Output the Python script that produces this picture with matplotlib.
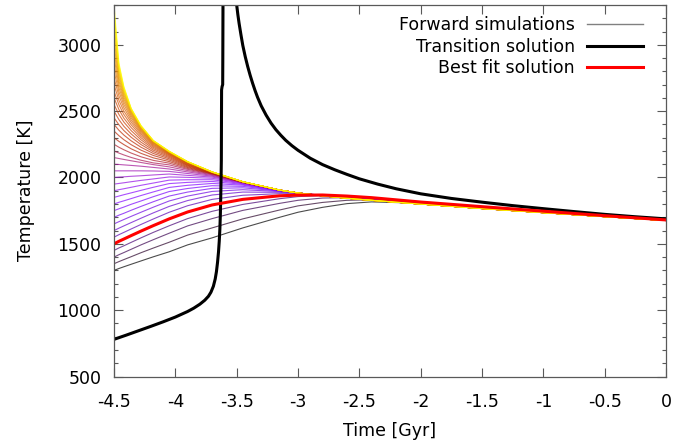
import numpy as np
import matplotlib
matplotlib.use("Agg")
import matplotlib.pyplot as plt
from matplotlib.lines import Line2D

plt.rcParams['font.family'] = ['DejaVu Sans']
plt.rcParams['axes.unicode_minus'] = False

# ---------------- data ----------------
t_fwd = [-4.5, -4.46, -4.42, -4.36, -4.28, -4.18, -4.05, -3.9, -3.7, -3.45,
         -3.15, -3.0, -2.8, -2.6, -2.4, -2.0, -1.5, -1.0, -0.5, 0.0]

fwd_start = [1300, 1350, 1400, 1450, 1550, 1600, 1650, 1700, 1750, 1800,
             1850, 1900, 1950, 2000, 2050, 2100, 2150, 2200, 2250, 2300,
             2350, 2400, 2450, 2500, 2550, 2600, 2650, 2700, 2750, 2800,
             2850, 2900, 2950, 3000, 3050, 3100, 3150, 3200, 3250, 3300]

upper_tail = [1905, 1883, 1862, 1844, 1828, 1800, 1766, 1735, 1705, 1676]

fwd_T = [
    [1300, 1314, 1327, 1346, 1371, 1402, 1440, 1492, 1545, 1620, 1700, 1738, 1775, 1803, 1816, 1806, 1772, 1740, 1708, 1678],
    [1350, 1366, 1381, 1403, 1433, 1468, 1512, 1566, 1620, 1688, 1755, 1786, 1812, 1828, 1832, 1808, 1774, 1742, 1709, 1679],
    [1400, 1418, 1434, 1459, 1492, 1531, 1580, 1635, 1690, 1752, 1805, 1828, 1845, 1848, 1841, 1811, 1776, 1743, 1710, 1679],
    [1450, 1469, 1485, 1511, 1545, 1586, 1636, 1690, 1745, 1797, 1840, 1856, 1864, 1858, 1845, 1813, 1778, 1744, 1711, 1680],
    [1550, 1569, 1586, 1612, 1646, 1687, 1738, 1787, 1835, 1866, 1878, 1876, 1868, 1857, 1845, 1812, 1777, 1744, 1711, 1680],
    [1600, 1618, 1635, 1660, 1693, 1733, 1782, 1826, 1868, 1890, 1888, 1880, 1867, 1855, 1842, 1810, 1775, 1742, 1710, 1679],
    [1650, 1667, 1683, 1707, 1738, 1776, 1823, 1860, 1895, 1908, 1894, 1882, 1866, 1853, 1840, 1808, 1773, 1741, 1709, 1679],
    [1700, 1716, 1730, 1753, 1782, 1817, 1860, 1890, 1918, 1922, 1898, 1883, 1865, 1851, 1838, 1806, 1772, 1740, 1708, 1678],
    [1750, 1764, 1777, 1798, 1823, 1855, 1894, 1917, 1938, 1933, 1900, 1883, 1864, 1850, 1836, 1805, 1771, 1739, 1708, 1678],
    [1800, 1813, 1824, 1841, 1864, 1891, 1925, 1941, 1955, 1942, 1901, 1883, 1863, 1849, 1835, 1804, 1770, 1738, 1707, 1678],
    [1850, 1860, 1870, 1884, 1903, 1926, 1954, 1963, 1970, 1948, 1902, 1883, 1863, 1848, 1834, 1803, 1769, 1738, 1707, 1677],
    [1900, 1908, 1915, 1926, 1941, 1958, 1980, 1983, 1983, 1953, 1903, 1883, 1863, 1847, 1833, 1803, 1769, 1737, 1707, 1677],
    [1950, 1955, 1960, 1968, 1978, 1989, 2004, 2001, 1994, 1957, 1903, 1883, 1863, 1847, 1832, 1802, 1768, 1737, 1706, 1677],
    [2000, 2003, 2005, 2009, 2013, 2019, 2026, 2016, 2003, 1960, 1903, 1883, 1862, 1846, 1831, 1802, 1768, 1736, 1706, 1677],
    [2050, 2050, 2050, 2050, 2050, 2049, 2046, 2030, 2010, 1962, 1904, 1883, 1862, 1845, 1830, 1801, 1767, 1736, 1706, 1677],
    [2100, 2098, 2095, 2091, 2085, 2076, 2064, 2042, 2016, 1963, 1904, 1883, 1862, 1845, 1829, 1801, 1767, 1736, 1706, 1677],
    [2150, 2143, 2136, 2126, 2113, 2097, 2080, 2052, 2021, 1964] + upper_tail,
    [2200, 2184, 2170, 2151, 2130, 2110, 2095, 2061, 2025, 1964] + upper_tail,
    [2250, 2228, 2209, 2184, 2156, 2129, 2108, 2068, 2028, 1965] + upper_tail,
    [2300, 2272, 2248, 2216, 2182, 2148, 2120, 2075, 2030, 1965] + upper_tail,
    [2350, 2315, 2285, 2247, 2206, 2166, 2131, 2081, 2032, 1965] + upper_tail,
    [2400, 2356, 2320, 2276, 2228, 2181, 2141, 2087, 2034, 1966] + upper_tail,
    [2450, 2397, 2354, 2303, 2248, 2194, 2150, 2092, 2035, 1966] + upper_tail,
    [2500, 2436, 2386, 2328, 2266, 2206, 2158, 2096, 2036, 1966] + upper_tail,
    [2550, 2475, 2418, 2353, 2284, 2217, 2165, 2100, 2037, 1966] + upper_tail,
    [2600, 2512, 2447, 2376, 2300, 2227, 2171, 2104, 2037, 1967] + upper_tail,
    [2650, 2548, 2475, 2397, 2315, 2236, 2176, 2107, 2038, 1967] + upper_tail,
    [2700, 2582, 2501, 2416, 2328, 2244, 2180, 2109, 2038, 1967] + upper_tail,
    [2750, 2615, 2526, 2433, 2339, 2251, 2183, 2111, 2039, 1967] + upper_tail,
    [2800, 2646, 2549, 2449, 2349, 2257, 2186, 2113, 2039, 1967] + upper_tail,
    [2850, 2675, 2570, 2463, 2357, 2262, 2188, 2114, 2040, 1967] + upper_tail,
    [2900, 2702, 2589, 2475, 2364, 2266, 2190, 2115, 2040, 1968] + upper_tail,
    [2950, 2727, 2606, 2485, 2370, 2269, 2191, 2116, 2040, 1968] + upper_tail,
    [3000, 2750, 2621, 2493, 2375, 2271, 2192, 2117, 2041, 1968] + upper_tail,
    [3050, 2771, 2635, 2500, 2379, 2273, 2193, 2117, 2041, 1968] + upper_tail,
    [3100, 2791, 2648, 2506, 2382, 2275, 2194, 2118, 2041, 1968] + upper_tail,
    [3150, 2810, 2659, 2511, 2385, 2276, 2195, 2118, 2042, 1968] + upper_tail,
    [3200, 2828, 2669, 2515, 2387, 2277, 2196, 2119, 2042, 1968] + upper_tail,
    [3250, 2845, 2678, 2518, 2389, 2278, 2197, 2119, 2042, 1968] + upper_tail,
    [3300, 2862, 2686, 2521, 2391, 2279, 2198, 2120, 2042, 1968] + upper_tail,
]

best_T = [1500, 1519, 1536, 1562, 1596, 1637, 1688, 1740, 1793, 1835,
          1862, 1867, 1868, 1860, 1848, 1815, 1780, 1746, 1712, 1680]

trans_lo_t = [-4.5, -4.4, -4.3, -4.2, -4.1, -4.0, -3.9, -3.85, -3.8, -3.76,
              -3.73, -3.71, -3.69, -3.675, -3.665, -3.656, -3.648, -3.642,
              -3.637, -3.633, -3.63, -3.627, -3.625, -3.624, -3.623, -3.619,
              -3.614, -3.613, -3.611]
trans_lo_T = [780, 812, 845, 878, 912, 948, 990, 1015, 1045, 1075,
              1105, 1135, 1180, 1235, 1290, 1360, 1440, 1520,
              1610, 1720, 1850, 2000, 2130, 2400, 2660, 2685,
              2700, 2900, 3450]

trans_hi_t = [-3.51, -3.5, -3.49, -3.48, -3.465, -3.45, -3.43, -3.41, -3.39,
              -3.37, -3.35, -3.33, -3.3, -3.26, -3.22, -3.18, -3.14, -3.1,
              -3.05, -3.0, -2.9, -2.8, -2.7, -2.6, -2.5, -2.35, -2.2, -2.0,
              -1.75, -1.5, -1.25, -1.0, -0.75, -0.5, -0.25, 0.0]
trans_hi_T = [3420, 3300, 3225, 3160, 3075, 2995, 2910, 2836, 2770,
              2710, 2655, 2605, 2540, 2470, 2410, 2360, 2318, 2280,
              2240, 2205, 2145, 2097, 2058, 2023, 1990, 1950, 1915, 1877,
              1842, 1814, 1788, 1765, 1743, 1722, 1704, 1688]

xtick_vals = [-4.5, -4.0, -3.5, -3.0, -2.5, -2.0, -1.5, -1.0, -0.5, 0.0]
xtick_labels = ["-4.5", "-4", "-3.5", "-3", "-2.5", "-2", "-1.5", "-1", "-0.5", "0"]
ytick_vals = [500, 1000, 1500, 2000, 2500, 3000]
ytick_labels = ["500", "1000", "1500", "2000", "2500", "3000"]

legend_labels = ["Forward simulations", "Transition solution", "Best fit solution"]

# ---------------- plot ----------------
def gp_palette(f):
    f = min(max(f, 0.0), 1.0)
    r = np.sqrt(f)
    g = f ** 3
    b = max(np.sin(2 * np.pi * f), 0.0)
    return (r, g, b)

fig = plt.figure(figsize=(6.73, 4.45), dpi=100)
ax = fig.add_axes([0.1694, 0.1539, 0.8202, 0.8349])

lo, hi = min(fwd_start), max(fwd_start)
for T0, row in zip(fwd_start, fwd_T):
    ax.plot(t_fwd, row, color=gp_palette((T0 - lo) / (hi - lo)), lw=0.8,
            alpha=0.7, solid_joinstyle='round')

ax.plot(trans_lo_t, trans_lo_T, color='black', lw=2.2, solid_joinstyle='round')
ax.plot(trans_hi_t, trans_hi_T, color='black', lw=2.2, solid_joinstyle='round')
ax.plot(t_fwd, best_T, color='#ff0000', lw=2.2, solid_joinstyle='round')

ax.set_xlim(-4.5, 0.0)
ax.set_ylim(500, 3300)
ax.set_xticks(xtick_vals)
ax.set_xticklabels(xtick_labels)
ax.set_yticks(ytick_vals)
ax.set_yticklabels(ytick_labels)
ax.set_yticks(np.arange(500, 3301, 100), minor=True)

ax.tick_params(which='both', direction='in', top=True, right=True,
               color='0.35', width=0.8, labelsize=12.5)
ax.tick_params(which='major', length=6.5)
ax.tick_params(which='minor', length=3)
ax.tick_params(axis='x', pad=12)
ax.tick_params(axis='y', pad=9)
for s in ax.spines.values():
    s.set_color('0.35')
    s.set_linewidth(0.9)

ax.set_xlabel("Time [Gyr]", fontsize=12.5, labelpad=8)
ax.set_ylabel("Temperature [K]", fontsize=12.5, labelpad=16)

handles = [Line2D([], [], color='0.5', lw=1.0),
           Line2D([], [], color='black', lw=2.2),
           Line2D([], [], color='#ff0000', lw=2.2)]
ax.legend(handles, legend_labels, loc='upper right',
          bbox_to_anchor=(0.958, 0.97), frameon=False, markerfirst=False,
          fontsize=12.5, handlelength=3.2, handletextpad=0.7,
          labelspacing=0.2, borderpad=0, borderaxespad=0)

fig.savefig("out.png", dpi=100)
